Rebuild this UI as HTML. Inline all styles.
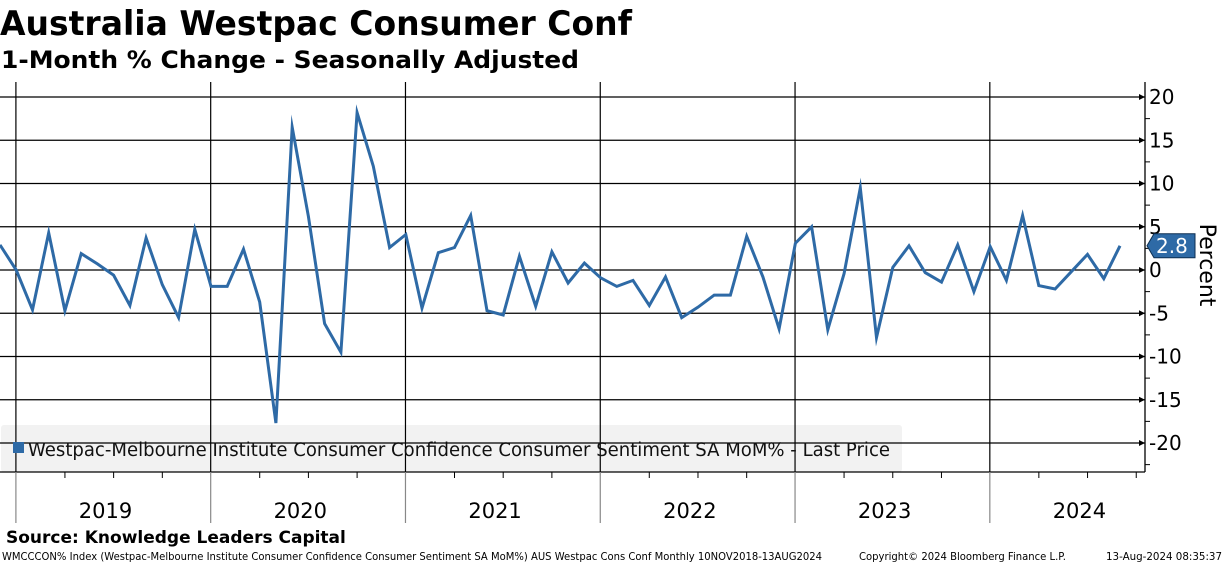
<!DOCTYPE html>
<html><head><meta charset="utf-8"><style>
html,body{margin:0;padding:0;background:#fff;width:1224px;height:565px;overflow:hidden}
svg{display:block;font-family:"DejaVu Sans","Liberation Sans",sans-serif}
</style></head><body>
<svg id="chart" width="1224" height="565" viewBox="0 0 1224 565">
<text x="0" y="35" font-size="34" font-weight="bold" textLength="632" lengthAdjust="spacingAndGlyphs">Australia Westpac Consumer Conf</text>
<text x="1" y="68" font-size="24" font-weight="bold" textLength="578" lengthAdjust="spacingAndGlyphs">1-Month % Change - Seasonally Adjusted</text>
<g id="grid"></g>
<rect x="1" y="425" width="901" height="47" rx="3" fill="#f2f2f2"/>
<g id="gridover"></g>
<g id="series"></g>
<rect x="13" y="442" width="11" height="11" fill="#2e6aa6"/>
<text x="28" y="456" font-size="18.5" fill="#111" textLength="862" lengthAdjust="spacingAndGlyphs">Westpac-Melbourne Institute Consumer Confidence Consumer Sentiment SA MoM% - Last Price</text>
<g id="axes"></g>
<text transform="translate(1200,265) rotate(90)" text-anchor="middle" font-size="22">Percent</text>
<text x="6" y="543" font-size="17" font-weight="bold">Source: Knowledge Leaders Capital</text>
<text x="2" y="560" font-size="10.5" textLength="820" lengthAdjust="spacingAndGlyphs">WMCCCON% Index (Westpac-Melbourne Institute Consumer Confidence Consumer Sentiment SA MoM%) AUS Westpac Cons Conf  Monthly 10NOV2018-13AUG2024</text>
<text x="859" y="560" font-size="10.5" textLength="207" lengthAdjust="spacingAndGlyphs">Copyright© 2024 Bloomberg Finance L.P.</text>
<text x="1106" y="560" font-size="10.5" textLength="116" lengthAdjust="spacingAndGlyphs">13-Aug-2024 08:35:37</text>
</svg>
<script>
const values = [2.9,0.0,-4.6,4.3,-4.7,1.9,0.7,-0.6,-4.1,3.7,-1.7,-5.5,4.7,-1.9,-1.9,2.4,-3.7,-17.7,16.5,6.2,-6.2,-9.5,18.2,12.0,2.6,4.1,-4.4,2.0,2.6,6.3,-4.7,-5.2,1.6,-4.2,2.1,-1.5,0.8,-0.9,-1.9,-1.2,-4.1,-0.8,-5.5,-4.3,-2.9,-2.9,3.9,-0.8,-6.8,3.1,5.0,-6.9,-0.4,9.5,-7.8,0.3,2.8,-0.3,-1.4,2.9,-2.5,2.7,-1.2,6.3,-1.8,-2.2,-0.2,1.8,-1.0,2.8];
const yTicks = [20,15,10,5,0,-5,-10,-15,-20];
const years = ["2019","2020","2021","2022","2023","2024"];
const yearStartIndex = [1,13,25,37,49,61];
const lastLabel = "2.8";

const NS="http://www.w3.org/2000/svg";
const X0=0, DX=16.232, AXX=1145, TOP=82, BOT=472;
function xs(i){return X0+i*DX;}
function ys(v){return 270-v*8.65;}
function mk(tag,attrs,parent){const e=document.createElementNS(NS,tag);for(const k in attrs)e.setAttribute(k,attrs[k]);parent.appendChild(e);return e;}
const grid=document.getElementById('grid'),gover=document.getElementById('gridover'),axes=document.getElementById('axes'),series=document.getElementById('series');

yTicks.forEach(t=>{
  const y=ys(t);
  const g=mk('line',{x1:0,x2:AXX,y1:y,y2:y,stroke:'#000','stroke-width':1.3},gover);
  
  
  const a=mk('path',{d:`M${AXX-6},${y-3}L${AXX},${y}L${AXX-6},${y+3}Z`,fill:'#000'},axes);
  
  
  const tx=mk('text',{x:AXX+4,y:y+7,'font-size':20,fill:'#000'},axes);
  tx.textContent=String(t);
  
  
  const m=mk('line',{x1:AXX,x2:AXX+5,y1:ys(t-2.5),y2:ys(t-2.5),stroke:'#000','stroke-width':1},axes);
  
  
});
const axl=mk('line',{x1:AXX,x2:AXX,y1:TOP,y2:BOT,stroke:'#000','stroke-width':1.3},axes);


const xb=mk('line',{x1:0,x2:AXX,y1:BOT,y2:BOT,stroke:'#000','stroke-width':1.3},axes);



yearStartIndex.forEach((si,k)=>{
  const x=xs(si-0.02);
  const v=mk('line',{x1:x,x2:x,y1:TOP,y2:BOT,stroke:'#000','stroke-width':1.2},gover);
  
  
  const s=mk('line',{x1:x,x2:x,y1:BOT,y2:523,stroke:'#888','stroke-width':1.2},axes);
  
  
  for(let q=1;q<4;q++){
    const qx=xs(si+q*3);
    if(qx<AXX){
      const m=mk('line',{x1:qx,x2:qx,y1:BOT,y2:BOT+6,stroke:'#000','stroke-width':1},axes);
      
      
    }
  }
  const tx=mk('text',{x:xs(si+5.5),y:518,'font-size':21,'text-anchor':'middle'},axes);
  tx.textContent=years[k];
  
  
});

const pts=values.map((v,i)=>xs(i).toFixed(1)+','+ys(v).toFixed(1)).join(' ');
const pl=mk('polyline',{points:pts,fill:'none',stroke:'#2e6aa6','stroke-width':3,'stroke-linejoin':'miter','stroke-miterlimit':10},series);



const lv=values[values.length-1], ly=ys(lv);
const tag=mk('path',{d:`M${AXX+2},${ly}L${AXX+9},${ly-12}H${AXX+50}V${ly+12}H${AXX+9}Z`,fill:'#2e6aa6',stroke:'#0d2f52','stroke-width':1},axes);


const tt=mk('text',{x:AXX+11,y:ly+7,'font-size':20,fill:'#fff'},axes);
tt.textContent=lastLabel;


</script>
</body></html>
